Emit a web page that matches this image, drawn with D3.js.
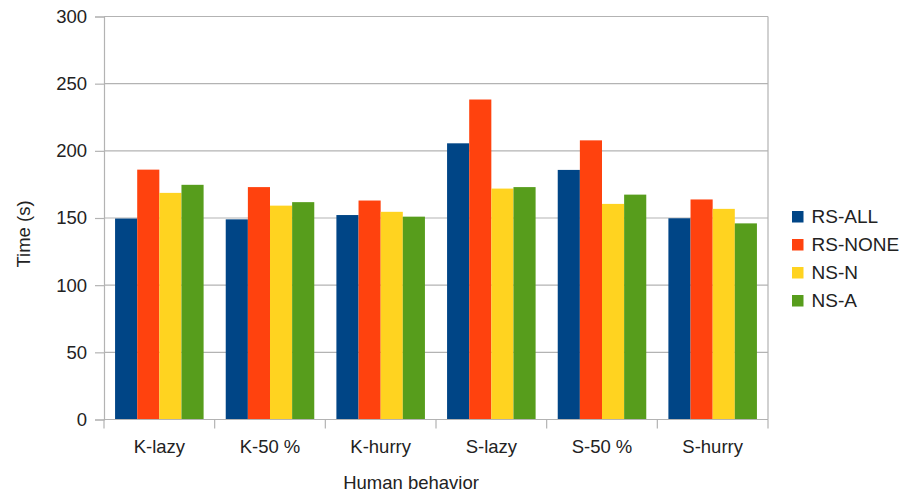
<!DOCTYPE html>
<html>
<head>
<meta charset="utf-8">
<script src="https://cdn.jsdelivr.net/npm/d3@7"></script>
<style>
  html, body { margin: 0; padding: 0; background: #fff; }
  svg { display: block; font-family: "Liberation Sans", Arial, sans-serif; }
</style>
</head>
<body>
<svg id="chart" width="902" height="496"></svg>
<script>
// Categories, series and their values
const categories = ["K-lazy", "K-50 %", "K-hurry", "S-lazy", "S-50 %", "S-hurry"];
const seriesNames = ["RS-ALL", "RS-NONE", "NS-N", "NS-A"];
const rsAll  = [149.6, 149.0, 152.2, 205.6, 185.8, 149.8];
const rsNone = [186.0, 173.0, 163.0, 238.2, 207.8, 163.8];
const nsN    = [168.7, 159.2, 154.6, 171.9, 160.5, 156.8];
const nsA    = [174.7, 161.8, 151.0, 173.0, 167.4, 146.0];
const yTicks = [0, 50, 100, 150, 200, 250, 300];
const seriesColors = ["#004586", "#ff420e", "#ffd320", "#579d1c"];

const seriesValues = [rsAll, rsNone, nsN, nsA];

const svg = d3.select("#chart");
const plot = { left: 104, right: 768, top: 16.5, bottom: 419.5 };
const FONT = 18.5;

const x = d3.scaleBand().domain(categories).range([plot.left, plot.right]).padding(0);
const xInner = d3.scaleBand().domain(seriesNames)
  .range([x.bandwidth() * 0.1, x.bandwidth() * 0.9]).padding(0);
const y = d3.scaleLinear().domain([0, 300]).range([plot.bottom, plot.top]);

// Horizontal grid lines
svg.append("g")
  .selectAll("line")
  .data(yTicks)
  .join("line")
  .attr("x1", plot.left).attr("x2", plot.right)
  .attr("y1", d => y(d)).attr("y2", d => y(d))
  .attr("stroke", "#b3b3b3").attr("stroke-width", 1.2);

// Right border of the plot area
svg.append("line")
  .attr("x1", plot.right).attr("x2", plot.right)
  .attr("y1", plot.top).attr("y2", plot.bottom)
  .attr("stroke", "#b3b3b3").attr("stroke-width", 1.2);

// Bars
const groups = svg.append("g")
  .selectAll("g")
  .data(categories)
  .join("g")
  .attr("transform", d => `translate(${x(d)},0)`);

groups.selectAll("rect")
  .data((c, i) => seriesNames.map((s, j) => ({ s, j, v: seriesValues[j][i] })))
  .join("rect")
  .attr("x", d => xInner(d.s))
  .attr("width", xInner.bandwidth())
  .attr("y", d => y(d.v))
  .attr("height", d => y(0) - y(d.v))
  .attr("fill", d => seriesColors[d.j]);

// Y axis
const yAxis = d3.axisLeft(y).tickValues(yTicks).tickSize(9).tickPadding(8);
const gy = svg.append("g").attr("transform", `translate(${plot.left},0)`).call(yAxis);
gy.select(".domain").attr("stroke", "#b3b3b3").attr("stroke-width", 1.2);
gy.selectAll(".tick line").attr("stroke", "#b3b3b3").attr("stroke-width", 1.2);
gy.selectAll(".tick text")
  .attr("font-size", FONT).attr("fill", "#222")
  .attr("font-family", "'Liberation Sans', Arial, sans-serif");

// X axis: ticks at category boundaries, labels centred in each band
const gx = svg.append("g").attr("transform", `translate(0,${plot.bottom})`);
gx.append("line")
  .attr("x1", plot.left).attr("x2", plot.right)
  .attr("stroke", "#b3b3b3").attr("stroke-width", 1.2);
const boundaries = categories.map(c => x(c)).concat([x(categories[categories.length - 1]) + x.bandwidth()]);
gx.selectAll("line.tick")
  .data(boundaries)
  .join("line")
  .attr("class", "tick")
  .attr("x1", d => d).attr("x2", d => d)
  .attr("y1", 0).attr("y2", 9)
  .attr("stroke", "#b3b3b3").attr("stroke-width", 1.2);
gx.selectAll("text")
  .data(categories)
  .join("text")
  .attr("x", d => x(d) + x.bandwidth() / 2)
  .attr("y", 33)
  .attr("text-anchor", "middle")
  .attr("font-size", FONT)
  .attr("fill", "#222")
  .text(d => d);

// Axis titles
svg.append("text")
  .attr("x", 411).attr("y", 489)
  .attr("text-anchor", "middle")
  .attr("font-size", FONT).attr("fill", "#222")
  .text("Human behavior");

svg.append("text")
  .attr("transform", "translate(30,234) rotate(-90)")
  .attr("text-anchor", "middle")
  .attr("font-size", FONT).attr("fill", "#222")
  .text("Time (s)");

// Legend
const legend = svg.append("g").attr("transform", "translate(792,211)");
const items = legend.selectAll("g")
  .data(seriesNames)
  .join("g")
  .attr("transform", (d, i) => `translate(0,${i * 28})`);
items.append("rect")
  .attr("width", 11.5).attr("height", 11.5)
  .attr("fill", (d, i) => seriesColors[i]);
items.append("text")
  .attr("x", 19.5).attr("y", 12)
  .attr("font-size", 19).attr("fill", "#222")
  .text(d => d);
</script>
</body>
</html>
